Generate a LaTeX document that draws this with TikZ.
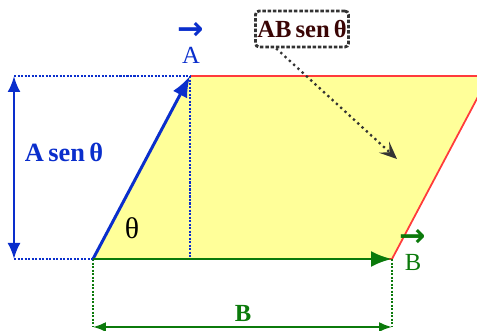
\documentclass[tikz,border=0pt]{standalone}
\usepackage{fontspec}
\setmainfont{Liberation Serif}
\newfontfamily\arrowfont{DejaVu Sans}
\usetikzlibrary{arrows.meta,positioning,calc}
\definecolor{vecblue}{HTML}{0A2ECC}
\definecolor{fillyel}{HTML}{FFFF99}
\definecolor{edgered}{HTML}{FF3B3B}
\definecolor{vecgreen}{HTML}{0B7A0B}
\definecolor{boxgray}{HTML}{333333}
\definecolor{maroon}{HTML}{3A0505}

\begin{document}
\begin{tikzpicture}[x=0.02cm,y=0.02cm,
  vecA/.style={vecblue,line width=1.7pt,-{Latex[length=4.2mm,width=3.2mm]}},
  vecB/.style={vecgreen,line width=1.7pt,-{Latex[length=4.2mm,width=3.2mm]}},
  guideA/.style={vecblue,line width=1.3pt,dash pattern=on 1.2pt off 0.8pt},
  guideB/.style={vecgreen,line width=1.3pt,dash pattern=on 1.2pt off 0.8pt},
  dimA/.style={vecblue,line width=1.4pt,{Latex[length=3.2mm,width=2.6mm]}-{Latex[length=3.2mm,width=2.6mm]}},
  dimB/.style={vecgreen,line width=1.2pt,{Latex[length=2.6mm,width=2mm]}-{Latex[length=2.6mm,width=2mm]}},
  veclabel/.style={font=\fontsize{14}{14}\selectfont,align=center,inner sep=0pt}]
  \useasboundingbox (0,0) rectangle (477,331);
  \clip (0,0) rectangle (477,331);
  % corners of the parallelogram
  \coordinate (o) at (93,72);
  \coordinate (b) at (392,72);
  \coordinate (a) at (190,255);
  \coordinate (ab) at (489,255);
  \fill[fillyel] (o) -- (a) -- (ab) -- (b) -- cycle;
  \draw[edgered,line width=1pt] (a) -- (ab) -- (b) -- (o);
  % projections
  \coordinate (ha) at (14,255);
  \coordinate (ho) at (14,72);
  \coordinate (foot) at (190,72);
  \draw[guideA] (ha) -- (a);
  \draw[guideA] (ho) -- (o);
  \draw[guideA] (a) -- (foot);
  \coordinate (lo) at (93,4);
  \coordinate (lb) at (392,4);
  \draw[guideB] (o) -- (lo);
  \draw[guideB] (b) -- (lb);
  % vectors
  \draw[vecA,line cap=round] (o) -- (a);
  \draw[vecB] (o) -- (b);
  \draw[dimA] (ho) -- (ha);
  \draw[dimB] (lo) -- (lb);
  % labels
  \node[veclabel,text=vecblue] (labA) at (191,288) {{\arrowfont\bfseries\fontsize{18}{12}\selectfont →}\\[0pt]A};
  \node[veclabel,text=vecgreen] (labB) at (413,81) {{\arrowfont\bfseries\fontsize{18}{12}\selectfont →}\\[0pt]B};
  \node[text=vecblue,font=\fontsize{15}{15}\selectfont\bfseries] (hgt) at (64,179) {A\,sen\,θ};
  \node[text=vecgreen,font=\fontsize{14}{14}\selectfont\bfseries] (base) at (243,18) {B};
  \node[font=\fontsize{17}{17}\selectfont] (ang) at (132,103) {θ};
  \node[draw=boxgray,line width=1.6pt,dash pattern=on 2pt off 1pt,rounded corners=2pt,
    text=maroon,font=\fontsize{14}{14}\selectfont\bfseries,inner sep=1pt,
    minimum width=1.76cm,minimum height=0.72cm] (area) at (302,302) {AB\,sen\,θ};
  \coordinate (spot) at (397,172);
  \draw[boxgray,line width=1.3pt,dotted,-{Stealth[length=3.5mm,width=3mm,inset=1.5mm]}]
    ([xshift=0.44cm]area.south west) -- (spot);
\end{tikzpicture}
\end{document}
